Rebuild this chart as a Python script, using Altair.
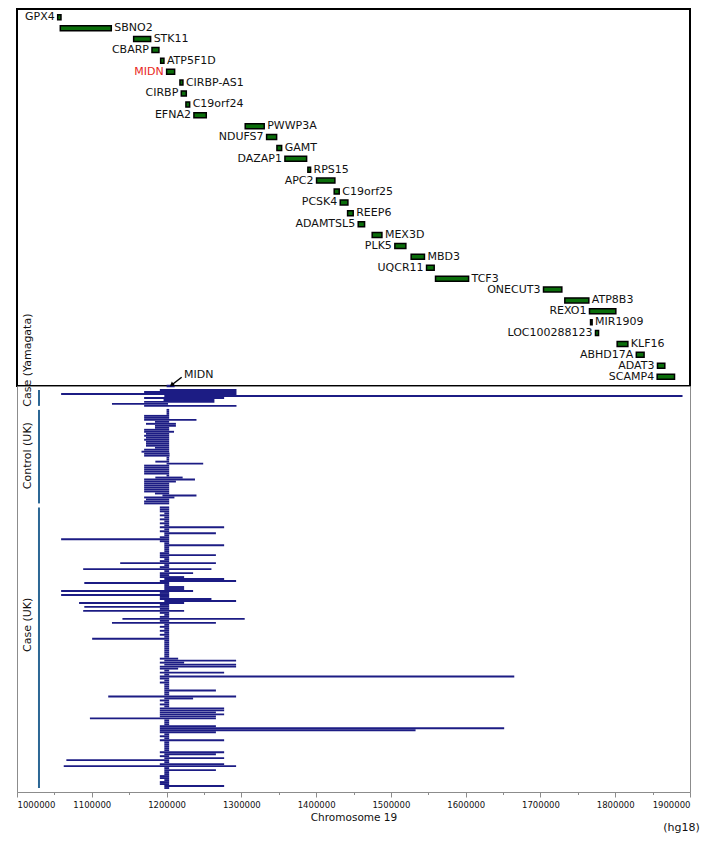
import altair as alt
import pandas as pd

FONT = "DejaVu Sans"
GREEN = "#0b6e0b"
NAVY = "#1c1c84"
RED = "#e8281e"
BRACKET = "#2c6795"

# ---------------- gene track ----------------
gene_names = ["GPX4", "SBNO2", "STK11", "CBARP", "ATP5F1D", "MIDN", "CIRBP-AS1", "CIRBP",
              "C19orf24", "EFNA2", "PWWP3A", "NDUFS7", "GAMT", "DAZAP1", "RPS15", "APC2",
              "C19orf25", "PCSK4", "REEP6", "ADAMTSL5", "MEX3D", "PLK5", "MBD3", "UQCR11",
              "TCF3", "ONECUT3", "ATP8B3", "REXO1", "MIR1909", "LOC100288123", "KLF16",
              "ABHD17A", "ADAT3", "SCAMP4"]
gene_start = [1054400, 1057900, 1156000, 1180500, 1192100, 1200100, 1217900, 1219700,
              1225900, 1236600, 1305200, 1333800, 1347600, 1358300, 1389000, 1400600,
              1424200, 1432300, 1442100, 1456300, 1475000, 1505300, 1527100, 1547700,
              1559700, 1704100, 1732600, 1765600, 1767000, 1773600, 1802600,
              1828200, 1856500, 1856100]
gene_end = [1058800, 1126100, 1178700, 1189800, 1196500, 1210800, 1221900, 1226400,
            1230900, 1253100, 1330600, 1347200, 1353900, 1387300, 1392600, 1425100,
            1430900, 1442500, 1449600, 1464800, 1488000, 1520000, 1544900, 1557900,
            1603900, 1728600, 1764700, 1800800, 1769100, 1777700, 1816900,
            1838600, 1866300, 1879300]
gene_label_side = ["L", "R", "R", "L", "R", "L", "R", "L", "R", "L", "R", "L", "R", "L", "R", "L",
                   "R", "L", "R", "L", "R", "L", "R", "L", "R", "L", "R", "L", "R", "L", "R",
                   "L", "L", "L"]

# ---------------- CNV segments (one row per sample) ----------------
yamagata_start = [1191000, 1170000, 1059000, 1197000, 1170000, 1196000, 1170000, 1127000, 1170000]
yamagata_end = [1293500, 1293500, 1293500, 1890000, 1277000, 1264000, 1264000, 1202000, 1293500]

control_start = [1200000, 1200000, 1200000, 1170000, 1170000, 1170000, 1184500, 1172500,
                 1184500, 1184500, 1170000, 1170000, 1172500, 1170000, 1172500, 1170000,
                 1172500, 1172500, 1172500, 1184500, 1170000, 1166500, 1170000, 1170000,
                 1200000, 1200000, 1185000, 1200000, 1170000, 1170000, 1170000, 1170000,
                 1170000, 1200000, 1185000, 1170000, 1170000, 1170000, 1170000, 1170000,
                 1170000, 1170000, 1184500, 1194500, 1170000, 1172500, 1170000, 1170000]
control_end = [1203500, 1203500, 1203500, 1203500, 1203500, 1240000, 1203500, 1212500,
               1212500, 1203500, 1203500, 1210000, 1203500, 1203500, 1203500, 1203500,
               1203500, 1203500, 1203500, 1203500, 1203500, 1203500, 1204000, 1204000,
               1203500, 1203500, 1203500, 1249000, 1203500, 1203500, 1203500, 1203500,
               1203500, 1203500, 1221500, 1238000, 1212500, 1203500, 1203500, 1203500,
               1203500, 1203500, 1203500, 1240000, 1210500, 1203500, 1203500, 1203500]

case_uk_start = [
    1191000, 1191000, 1191000, 1197000, 1191000, 1197000, 1191000, 1197000, 1191000, 1197000,
    1191000, 1197000, 1191000, 1197000, 1197000, 1191000, 1059000, 1191000, 1197000, 1197000,
    1197000, 1197000, 1197000, 1191000, 1191000, 1191000, 1197000, 1191000, 1138000, 1197000,
    1191000, 1088500, 1197000, 1191000, 1191000, 1191000, 1197000, 1191000, 1090000, 1197000,
    1197000,
    1197000, 1059000, 1191000, 1059000, 1191000, 1191000, 1197000, 1083000, 1191000, 1090000,
    1191000, 1088500, 1191000, 1197000, 1191000, 1141000, 1191000, 1127000, 1197000, 1191000,
    1197000, 1191000, 1197000, 1191000, 1197000, 1100500, 1197000, 1197000, 1197000, 1197000,
    1197000, 1197000, 1197000, 1197000, 1197000, 1191000, 1197000, 1191000, 1197000, 1191000,
    1191000, 1197000, 1191000, 1197000, 1191000, 1191000, 1197000, 1191000, 1197000, 1197000,
    1197000, 1197000, 1197000, 1197000, 1122000, 1197000, 1191000, 1197000, 1191000, 1197000,
    1191000, 1191000, 1191000, 1191000, 1191000, 1097500, 1197000, 1197000, 1197000, 1191000,
    1191000, 1191000, 1191000, 1197000, 1191000, 1197000, 1191000, 1197000, 1197000, 1197000,
    1197000, 1197000, 1191000, 1197000, 1191000, 1197000, 1066000, 1197000, 1191000, 1062500,
    1197000, 1197000, 1197000, 1197000, 1191000, 1191000, 1197000, 1191000, 1191000, 1197000,
    1197000]
case_uk_end = [
    1203500, 1203500, 1203500, 1203500, 1203500, 1203500, 1203500, 1203500, 1203500, 1203500,
    1277000, 1203500, 1203500, 1266000, 1203500, 1203500, 1203500, 1203500, 1203500, 1277000,
    1203500, 1203500, 1203500, 1203500, 1266000, 1203500, 1203500, 1203500, 1266000, 1203500,
    1203500, 1260000, 1203500, 1235500, 1203500, 1223500, 1277000, 1293000, 1203500, 1203500,
    1223500,
    1223500, 1235500, 1203500, 1203500, 1203500, 1260000, 1293000, 1223500, 1203500, 1203500,
    1203500, 1223500, 1203500, 1203500, 1203500, 1304500, 1203500, 1266000, 1203500, 1203500,
    1203500, 1203500, 1203500, 1203500, 1203500, 1203500, 1203500, 1203500, 1203500, 1203500,
    1203500, 1203500, 1203500, 1203500, 1203500, 1215500, 1293000, 1223500, 1293000, 1293000,
    1215500, 1203500, 1277000, 1203500, 1665000, 1203500, 1203500, 1203500, 1203500, 1203500,
    1203500, 1266000, 1203500, 1203500, 1293000, 1235500, 1203500, 1203500, 1203500, 1203500,
    1277000, 1277000, 1266000, 1277000, 1266000, 1266000, 1203500, 1203500, 1203500, 1266000,
    1651500, 1533000, 1266000, 1203500, 1203500, 1203500, 1277000, 1203500, 1203500, 1203500,
    1203500, 1203500, 1277000, 1266000, 1203500, 1277000, 1203500, 1203500, 1277000, 1293000,
    1203500, 1266000, 1203500, 1203500, 1203500, 1203500, 1203500, 1203500, 1203500, 1277000,
    1203500]

group_names = ["Case (Yamagata)", "Control (UK)", "Case (UK)"]
group_first_row = [2, 12, 61]          # row slot where each group starts
group_label_row = [-13, 35, 120]        # row slot of the centre of each rotated label
group_label_x = 1014500
group_bracket_x = 1029400

tick_values = list(range(1000000, 1900001, 50000))

# ---------------- data frames ----------------
genes = pd.DataFrame({"name": gene_names, "start": gene_start, "end": gene_end,
                      "side": gene_label_side})
genes["row"] = range(len(genes))

seg_groups = [(yamagata_start, yamagata_end), (control_start, control_end),
              (case_uk_start, case_uk_end)]
rows = []
brackets = []
for gi, (ss, ee) in enumerate(seg_groups):
    first = group_first_row[gi]
    for i, (s, e) in enumerate(zip(ss, ee)):
        rows.append({"group": group_names[gi], "start": s, "end": e, "k": first + i})
    brackets.append({"group": group_names[gi], "k0": first, "k1": first + len(ss) - 1,
                     "x": group_bracket_x})
segs = pd.DataFrame(rows)
brackets = pd.DataFrame(brackets)
glabels = pd.DataFrame({"text": group_names, "k": group_label_row,
                        "x": [group_label_x] * 3})

midn = genes[genes["name"] == "MIDN"].iloc[0]
midn_bar = pd.DataFrame({"start": [midn["start"]], "end": [midn["end"]], "k": [0]})
arrow = pd.DataFrame({"x": [1220200], "k": [-4.4], "x2": [1206800], "k2": [-0.5]})
midn_text = pd.DataFrame({"x": [1223300], "k": [-5.6], "text": ["MIDN"]})
hg = pd.DataFrame({"x": [1913000], "k": [222], "text": ["(hg18)"]})

# ---------------- scales / axes ----------------
xs = alt.Scale(domain=[1000000, 1900000], nice=False, zero=False)
ys_top = alt.Scale(domain=[-0.3, 33.4], reverse=True, nice=False, zero=False)
ys_bot = alt.Scale(domain=[0, 204], reverse=True, nice=False, zero=False)

xaxis = alt.Axis(values=tick_values, format="d",
                 labelExpr="datum.value % 100000 == 0 ? format(datum.value, 'd') : ''",
                 tickSize={"condition": {"test": "datum.value % 100000 != 0", "value": 2.5},
                           "value": 5},
                 labelFlush=True, labelOverlap=False, grid=False,
                 domainColor="#8c8c8c", tickColor="#8c8c8c", labelColor="#111",
                 labelFont=FONT, labelFontSize=8.5, labelPadding=3,
                 titleFont=FONT, titleFontSize=10.5, titleFontWeight="normal",
                 titleColor="#111", titlePadding=4)


def X(field):
    return alt.X(field, type="quantitative", scale=xs, axis=xaxis, title="Chromosome 19")


# ---------------- top panel ----------------
tb = alt.Chart(genes)
bars = tb.mark_bar(size=5, fill=GREEN, stroke="black", strokeWidth=1.5).encode(
    x=alt.X("start:Q", scale=xs, axis=None), x2="end:Q",
    y=alt.Y("row:Q", scale=ys_top, axis=None))
lab_color = alt.condition("datum.name == 'MIDN'", alt.value(RED), alt.value("#111"))
lab_r = tb.transform_filter("datum.side == 'R'").mark_text(
    align="left", baseline="middle", dx=3, font=FONT, fontSize=11).encode(
    x=alt.X("end:Q", scale=xs, axis=None), y=alt.Y("row:Q", scale=ys_top, axis=None),
    text="name:N", color=lab_color)
lab_l = tb.transform_filter("datum.side == 'L'").mark_text(
    align="right", baseline="middle", dx=-3, font=FONT, fontSize=11).encode(
    x=alt.X("start:Q", scale=xs, axis=None), y=alt.Y("row:Q", scale=ys_top, axis=None),
    text="name:N", color=lab_color)
top = alt.layer(bars, lab_r, lab_l).properties(
    width=673, height=377, view=alt.ViewBackground(stroke="black", strokeWidth=2))

# ---------------- bottom panel ----------------
Yb = lambda f: alt.Y(f, type="quantitative", scale=ys_bot, axis=None)
seg_layer = alt.Chart(segs).mark_rule(strokeWidth=1.9, color=NAVY, opacity=1).encode(
    x=X("start"), x2="end", y=Yb("k"))
midn_layer = alt.Chart(midn_bar).mark_rule(strokeWidth=2.5, color=NAVY).encode(
    x=X("start"), x2="end", y=Yb("k"))
arrow_line = alt.Chart(arrow).mark_rule(strokeWidth=1.5, color="black").encode(
    x=X("x"), x2="x2", y=Yb("k"), y2="k2")
arrow_head = alt.Chart(arrow).mark_point(shape="triangle-up", angle=232, size=28,
                                          filled=True, color="black", opacity=1).encode(
    x=X("x2"), y=Yb("k2"))
midn_lab = alt.Chart(midn_text).mark_text(align="left", baseline="middle", font=FONT,
                                          fontSize=11, color="#111").encode(
    x=X("x"), y=Yb("k"), text="text:N")
br_layer = alt.Chart(brackets).mark_rule(strokeWidth=2, color=BRACKET).encode(
    x=X("x"), y=Yb("k0"), y2="k1")
gl_layer = alt.Chart(glabels).mark_text(angle=270, align="center", baseline="middle",
                                        font=FONT, fontSize=11, color="#111").encode(
    x=X("x"), y=Yb("k"), text="text:N")
hg_layer = alt.Chart(hg).mark_text(align="right", baseline="middle", font=FONT,
                                   fontSize=11, color="#111").encode(
    x=X("x"), y=Yb("k"), text="text:N")

bottom = alt.layer(seg_layer, midn_layer, br_layer, gl_layer, arrow_line, arrow_head,
                   midn_lab, hg_layer).properties(
    width=673, height=406, view=alt.ViewBackground(stroke="#8c8c8c", strokeWidth=1))

chart = alt.vconcat(top, bottom, spacing=0, bounds="flush").properties(
    padding={"left": 8, "top": 0, "right": 0, "bottom": 0}
).configure(background="white")

chart.save("out.html", embed_options={"renderer": "svg", "actions": False})
